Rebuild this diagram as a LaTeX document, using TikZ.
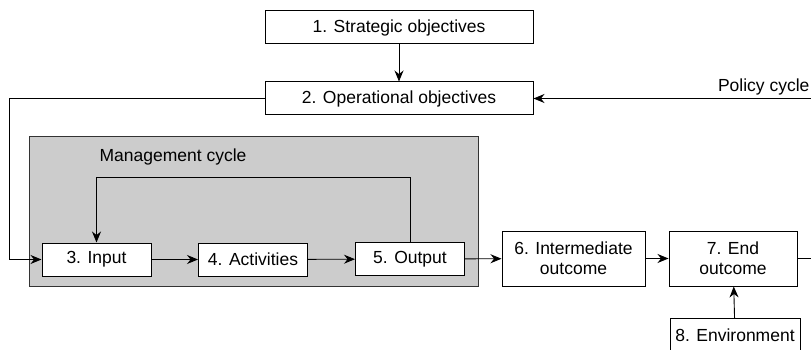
\documentclass[tikz,border=0pt]{standalone}
\usepackage{fontspec}
\setmainfont{Liberation Sans}
\usetikzlibrary{arrows.meta}
\usetikzlibrary{positioning}

\begin{document}
\begin{tikzpicture}[x=1pt, y=-1pt,
  font=\fontsize{17.5}{20}\selectfont,
  box/.style={draw, line width=1pt, align=center, inner sep=0pt},
  flow/.style={line width=0.9pt, -{Stealth[length=11pt,width=9pt]}}]
\useasboundingbox (0,0) rectangle (811,350);
% management cycle background
\fill[gray!40, draw=black!80, line width=1pt] (29,137) rectangle (478,286);
\node[anchor=west] (mc) at (96,157) {Management cycle};
% boxes
\node[box, minimum width=268, minimum height=33] (so) at (399,27.5) {1. Strategic objectives};
\node[box, minimum width=268, minimum height=33] (oo) at (399,98.5) {2. Operational objectives};
\node[box, fill=white, minimum width=109, minimum height=33] (in) at (96.5,259.5) {3. Input};
\node[box, fill=white, minimum width=109, minimum height=33] (ac) at (253,259.5) {4. Activities};
\node[box, fill=white, minimum width=109, minimum height=33] (ou) at (410,259) {5. Output};
\node[box, minimum width=143, minimum height=55] (io) at (573.5,258.5) {6. Intermediate\\outcome};
\node[box, minimum width=128, minimum height=55] (eo) at (733,258.5) {7. End\\outcome};
\node[box, minimum width=130, minimum height=33] (en) at (735,335) {8. Environment};
\node[anchor=east] (pc) at (813,87) {Policy cycle};
\coordinate (pr) at (813,98.5);
\coordinate (er) at (813,258.5);
% connectors
\draw[flow] (so) -- (oo);
\draw[flow] (oo.west) -- ++(-255,0) |- (in.west);
\draw[flow] (pr) -- (oo.east);
\draw[flow] (in) -- (ac);
\draw[flow] (ac) -- (ou);
\draw[flow] (ou.north) -- ++(0,-65) -| (in.north);
\draw[flow] (ou) -- (io);
\draw[flow] (io) -- (eo);
\draw[line width=0.9pt] (eo) -- (er);
\draw[flow] (en) -- (eo);
\end{tikzpicture}
\end{document}
